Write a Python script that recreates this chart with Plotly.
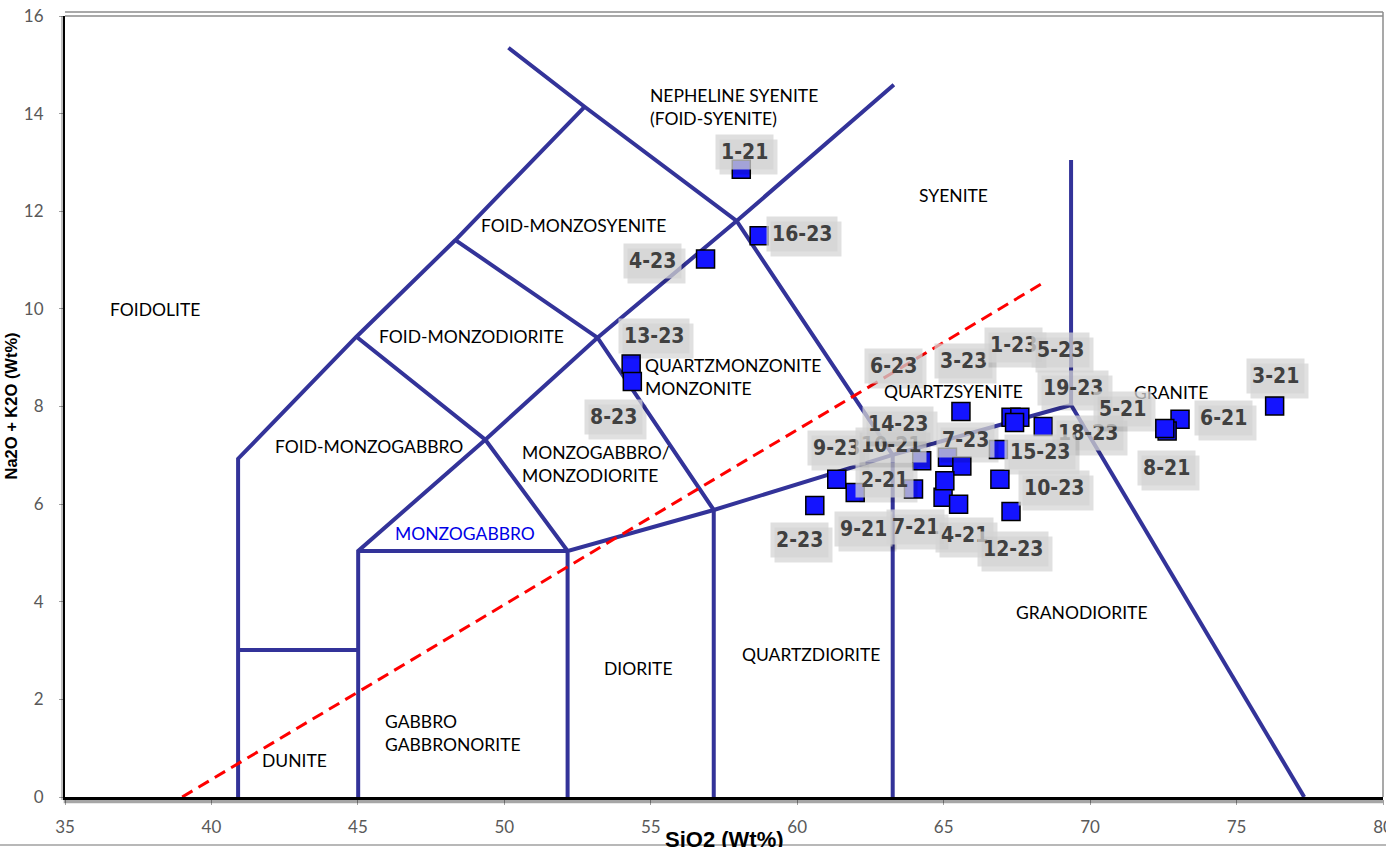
import plotly.graph_objects as go

# ---- Sample analyses: SiO2 vs total alkalis (Na2O + K2O), wt% ----
sample_ids = ["1-21", "16-23", "4-23", "13-23", "8-23", "2-23", "9-23", "9-21",
              "2-21", "10-21", "14-23", "7-23", "7-21", "4-21", "6-23",
              "3-23", "1-23", "5-23", "19-23", "18-23", "15-23", "10-23", "12-23",
              "6-21", "8-21", "5-21", "3-21"]
sio2 = [58.09, 58.70, 56.87, 54.33, 54.37, 60.60, 61.35, 61.98,
        63.97, 64.25, 65.13, 65.62, 64.98, 65.51, 65.04,
        65.59, 67.30, 67.60, 67.42, 68.40, 66.87, 66.92, 67.30,
        73.07, 72.63, 72.55, 76.30]
alkali = [12.86, 11.50, 11.02, 8.87, 8.51, 5.97, 6.51, 6.24,
          6.31, 6.89, 6.96, 6.78, 6.14, 6.00, 6.48,
          7.90, 7.78, 7.78, 7.67, 7.59, 7.12, 6.51, 5.85,
          7.74, 7.50, 7.55, 8.01]

# ---- Plutonic TAS field boundaries (SiO2, Na2O+K2O) ----
boundaries = [
    [(40.91, 0), (40.91, 6.93), (44.95, 9.43), (48.33, 11.41), (52.74, 14.14)],
    [(40.91, 3.01), (45.01, 3.01)],
    [(45.01, 0), (45.01, 5.04), (49.35, 7.32), (53.18, 9.41), (57.93, 11.80), (63.30, 14.59)],
    [(45.01, 5.04), (52.16, 5.04)],
    [(52.16, 0), (52.16, 5.04), (57.15, 5.88), (63.26, 7.01), (69.35, 8.03)],
    [(44.95, 9.43), (49.35, 7.32), (52.16, 5.04)],
    [(48.33, 11.41), (53.18, 9.41), (57.15, 5.88), (57.15, 0)],
    [(50.14, 15.35), (52.74, 14.14), (57.93, 11.80), (63.26, 7.01), (63.26, 0)],
    [(69.35, 8.03), (69.35, 13.05)],
    [(69.35, 8.03), (77.31, 0)],
]
# Alkaline / subalkaline divide
alk_divide_x = [39.0, 68.39]
alk_divide_y = [0.0, 10.53]

# Field names: (text, SiO2, alkalis, anchor, colour)
field_names = [
    ("NEPHELINE SYENITE<br>(FOID-SYENITE)", 54.92, 14.14, "left", "black"),
    ("SYENITE", 65.35, 12.32, "center", "black"),
    ("FOID-MONZOSYENITE", 52.36, 11.70, "center", "black"),
    ("FOIDOLITE", 38.08, 9.98, "center", "black"),
    ("FOID-MONZODIORITE", 48.88, 9.43, "center", "black"),
    ("QUARTZMONZONITE<br>MONZONITE", 54.74, 8.60, "left", "black"),
    ("QUARTZSYENITE", 65.35, 8.31, "center", "black"),
    ("GRANITE", 72.76, 8.28, "center", "black"),
    ("FOID-MONZOGABBRO", 45.39, 7.19, "center", "black"),
    ("MONZOGABBRO/<br>MONZODIORITE", 50.52, 6.82, "left", "black"),
    ("MONZOGABBRO", 48.64, 5.40, "center", "#0000e6"),
    ("GRANODIORITE", 69.72, 3.77, "center", "black"),
    ("DIORITE", 54.58, 2.64, "center", "black"),
    ("QUARTZDIORITE", 60.46, 2.91, "center", "black"),
    ("GABBRO<br>GABBRONORITE", 45.87, 1.32, "left", "black"),
    ("DUNITE", 42.82, 0.74, "center", "black"),
]

# Pixel placement of each sample tag relative to its marker
label_shift = {
    "1-21": (3, 17), "16-23": (43, 2), "4-23": (-53, -2), "13-23": (23, 28),
    "8-23": (-19, -35), "2-23": (-15, -34), "9-23": (0, 31), "9-21": (8, -37),
    "2-21": (-29, 9), "10-21": (-31, 16), "14-23": (-49, 33), "7-23": (4, 26),
    "7-21": (-28, -30), "4-21": (6, -31), "6-23": (-51, 115), "3-23": (3, 50),
    "1-23": (2, 72), "5-23": (41, 67), "19-23": (58, 35), "18-23": (45, -6),
    "15-23": (42, -3), "10-23": (54, -9), "12-23": (2, -38), "6-21": (43, 1),
    "8-21": (-1, -37), "5-21": (-42, 19), "3-21": (1, 30),
}

LINE_COLOR = "#333399"
fig = go.Figure()

for seg in boundaries:
    fig.add_trace(go.Scatter(
        x=[p[0] for p in seg], y=[p[1] for p in seg], mode="lines",
        line=dict(color=LINE_COLOR, width=4), hoverinfo="skip", showlegend=False))

fig.add_trace(go.Scatter(
    x=alk_divide_x, y=alk_divide_y, mode="lines",
    line=dict(color="#ff0000", width=3, dash="12px,7px"),
    hoverinfo="skip", showlegend=False))

fig.add_trace(go.Scatter(
    x=sio2, y=alkali, mode="markers", text=sample_ids,
    marker=dict(symbol="square", size=18, color="#1414ff",
                line=dict(color="black", width=1.5)),
    showlegend=False))

annotations = []
for name, xv, yv, anchor, col in field_names:
    annotations.append(dict(
        x=xv, y=yv, xref="x", yref="y", text=name, showarrow=False,
        xanchor=anchor, yanchor="middle", align=anchor if anchor != "center" else "center",
        font=dict(family="Lato, Open Sans, sans-serif", size=17.5, color=col)))

TAG_FONT = "DejaVu Sans Condensed, DejaVu Sans, sans-serif"
TAG_SIZE = 21
for sid, xv, yv in zip(sample_ids, sio2, alkali):
    dx, dy = label_shift[sid]
    # soft drop shadow behind the tag
    annotations.append(dict(
        x=xv, y=yv, xref="x", yref="y", text="<b>%s</b>" % sid, showarrow=False,
        xshift=dx + 4, yshift=dy - 5, borderpad=5,
        bgcolor="rgba(0,0,0,0.12)",
        font=dict(family=TAG_FONT, size=TAG_SIZE, color="rgba(0,0,0,0)")))
    annotations.append(dict(
        x=xv, y=yv, xref="x", yref="y", text="<b>%s</b>" % sid, showarrow=False,
        xshift=dx, yshift=dy, borderpad=5,
        bgcolor="rgba(212,212,212,0.75)",
        font=dict(family=TAG_FONT, size=TAG_SIZE, color="#404040")))

# axis titles
annotations.append(dict(
    x=0.5, y=-0.0359, xref="paper", yref="paper", text="<b>SiO2 (Wt%)</b>",
    showarrow=False, xanchor="center", yanchor="top",
    font=dict(family="Liberation Sans, Arial, sans-serif", size=22, color="black")))
annotations.append(dict(
    x=-0.0417, y=0.5, xref="paper", yref="paper", text="<b>Na2O + K2O (Wt%)</b>",
    showarrow=False, textangle=-90, xanchor="center", yanchor="middle",
    font=dict(family="Liberation Sans, Arial, sans-serif", size=16.5, color="black")))

shapes = [
    # frame: top double rule and right edge
    dict(type="line", xref="paper", yref="paper", x0=0, x1=1, y0=1.0, y1=1.0,
         line=dict(color="#8c8c8c", width=1.5)),
    dict(type="line", xref="paper", yref="paper", x0=0, x1=1, y0=1.0051, y1=1.0051,
         line=dict(color="#8c8c8c", width=1.5)),
    dict(type="line", xref="paper", yref="paper", x0=1, x1=1, y0=0, y1=1.0051,
         line=dict(color="#8c8c8c", width=1.5)),
    # shadow of left and bottom axis lines
    dict(type="line", xref="paper", yref="paper", x0=-0.0023, x1=-0.0023, y0=-0.004, y1=1.0,
         line=dict(color="rgba(0,0,0,0.25)", width=2)),
    dict(type="line", xref="paper", yref="paper", x0=-0.001, x1=1.0, y0=-0.0055, y1=-0.0055,
         line=dict(color="rgba(0,0,0,0.35)", width=4)),
    # bottom border of the page
    dict(type="line", xref="paper", yref="paper", x0=-0.05, x1=1.003, y0=-0.0615, y1=-0.0615,
         line=dict(color="#a0a0a0", width=1.5)),
]

fig.update_layout(
    width=1386, height=847,
    margin=dict(l=65, r=3, t=16, b=50, autoexpand=False),
    paper_bgcolor="white", plot_bgcolor="white",
    showlegend=False,
    annotations=annotations, shapes=shapes,
    xaxis=dict(range=[35, 80], dtick=5, tick0=35, showgrid=False, zeroline=False,
               showline=True, linecolor="black", linewidth=3, automargin=False,
               ticks="outside", ticklen=5, tickcolor="#a0a0a0", ticklabelstandoff=8,
               ticklabeloverflow="allow",
               tickfont=dict(family="Lato, sans-serif", size=17, color="#595959")),
    yaxis=dict(range=[0, 16], dtick=2, tick0=0, showgrid=False, zeroline=False,
               showline=True, linecolor="black", linewidth=2, automargin=False,
               ticks="outside", ticklen=4, tickcolor="#a0a0a0", ticklabelstandoff=12,
               tickfont=dict(family="Lato, sans-serif", size=17, color="#595959")),
)

fig.write_html("out.html")
